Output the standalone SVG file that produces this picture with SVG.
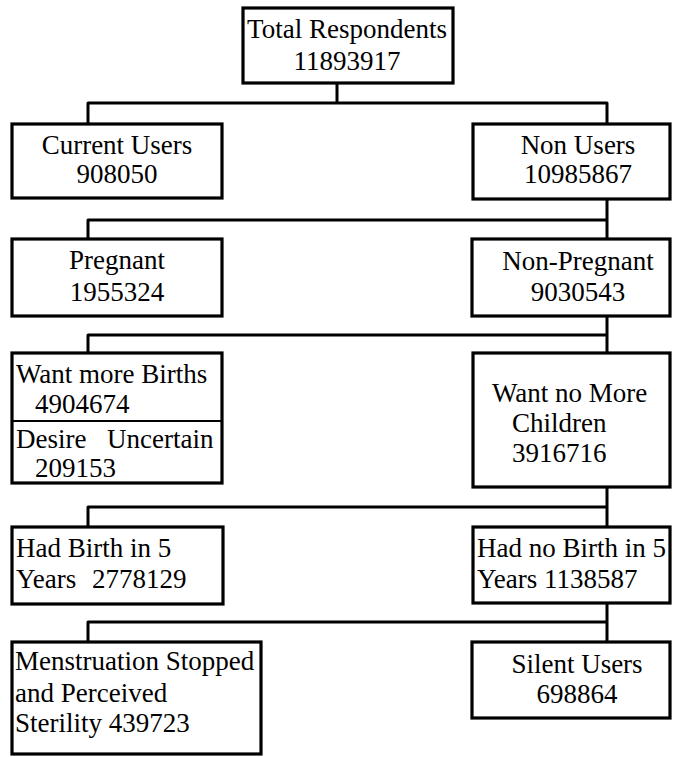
<svg xmlns="http://www.w3.org/2000/svg" width="673" height="757" viewBox="0 0 673 757">
<style>
.box{fill:#fff;stroke:#000;stroke-width:3.2}
.div{stroke:#000;stroke-width:2.2}
.ln{fill:none;stroke:#000;stroke-width:3;stroke-linejoin:round}
.t{font-family:'Liberation Serif','Times New Roman',serif;font-size:27px;fill:#000}
.c{text-anchor:middle}
</style>
<rect width="673" height="757" fill="#fff"/>
<g id="connectors">
<path class="ln" d="M337,83 V103 M88,123 V103 H607 V124"/>
<path class="ln" d="M607,199 V220 H88 V239 M607,220 V239"/>
<path class="ln" d="M607,316 V335 H88 V353 M607,335 V353"/>
<path class="ln" d="M607,487 V507 H88 V527 M607,507 V527"/>
<path class="ln" d="M607,603 V622 H88 V642 M607,622 V642"/>
</g>
<g id="total" class="t">
<rect class="box" x="243" y="8" width="210" height="75"/>
<text class="c" x="347" y="38">Total Respondents</text>
<text class="c" x="347" y="70">11893917</text>
</g>
<g id="current" class="t">
<rect class="box" x="12" y="124" width="210" height="74"/>
<text class="c" x="117" y="154">Current Users</text>
<text class="c" x="117" y="183">908050</text>
</g>
<g id="nonusers" class="t">
<rect class="box" x="473" y="124" width="197" height="75"/>
<text class="c" x="578" y="154">Non Users</text>
<text class="c" x="578" y="183">10985867</text>
</g>
<g id="pregnant" class="t">
<rect class="box" x="12" y="239" width="210" height="77"/>
<text class="c" x="117" y="269">Pregnant</text>
<text class="c" x="117" y="301">1955324</text>
</g>
<g id="nonpregnant" class="t">
<rect class="box" x="472" y="239" width="198" height="77"/>
<text class="c" x="578" y="270">Non-Pregnant</text>
<text class="c" x="578" y="301">9030543</text>
</g>
<g id="wantmore" class="t">
<rect class="box" x="12" y="353" width="210" height="130"/>
<line class="div" x1="12" y1="421" x2="222" y2="421"/>
<text x="16" y="383">Want more Births</text>
<text x="35" y="413">4904674</text>
<text x="16" y="448">Desire</text>
<text x="107" y="448">Uncertain</text>
<text x="35" y="477">209153</text>
</g>
<g id="wantnomore" class="t">
<rect class="box" x="473" y="353" width="197" height="134"/>
<text x="492" y="402">Want no More</text>
<text x="512" y="432">Children</text>
<text x="512" y="462">3916716</text>
</g>
<g id="hadbirth" class="t">
<rect class="box" x="12" y="527" width="211" height="77"/>
<text x="16" y="557">Had Birth in 5</text>
<text x="16" y="588">Years</text>
<text x="92" y="588">2778129</text>
</g>
<g id="hadnobirth" class="t">
<rect class="box" x="473" y="527" width="197" height="76"/>
<text x="477" y="557">Had no Birth in 5</text>
<text x="477" y="588">Years 1138587</text>
</g>
<g id="menstruation" class="t">
<rect class="box" x="12" y="642" width="249" height="112"/>
<text x="15" y="670">Menstruation Stopped</text>
<text x="15" y="702">and Perceived</text>
<text x="15" y="732">Sterility 439723</text>
</g>
<g id="silent" class="t">
<rect class="box" x="472" y="642" width="198" height="76"/>
<text class="c" x="577" y="673">Silent Users</text>
<text class="c" x="577" y="703">698864</text>
</g>
</svg>
